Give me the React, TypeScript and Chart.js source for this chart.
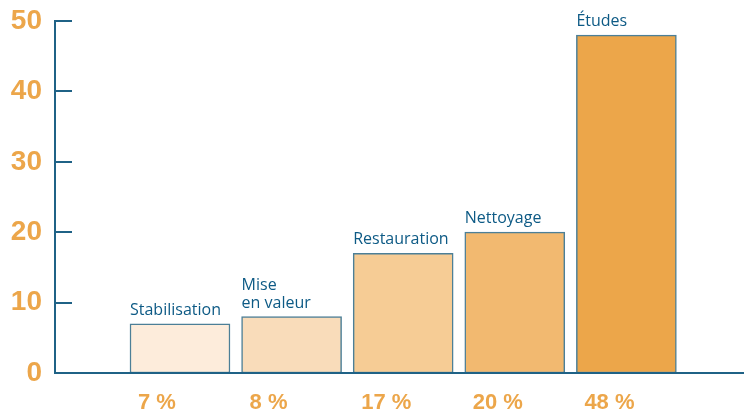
import React, { useEffect, useRef } from "react";
import { Chart, registerables } from "chart.js";

Chart.register(...registerables);

// Share of spending by type of work
const categories: string[][] = [
  ["Stabilisation"],
  ["Mise", "en valeur"],
  ["Restauration"],
  ["Nettoyage"],
  ["Études"],
];
const values: number[] = [7, 8, 17, 20, 48];
const percentLabels: string[] = values.map((v) => `${v} %`);
const yTicks: number[] = [0, 10, 20, 30, 40, 50];

const barFills = ["#fdecdb", "#f9dcba", "#f6cc95", "#f2b970", "#eca64a"];
const BLUE = "#0d5a85";
const AXIS = "#1f6286";
const ORANGE = "#eca64a";

const decorations = {
  id: "decorations",
  afterDatasetsDraw(chart: any) {
    const { ctx, chartArea } = chart;
    const yScale = chart.scales.y;
    const meta = chart.getDatasetMeta(0);
    ctx.save();

    // baseline across the full width
    ctx.strokeStyle = AXIS;
    ctx.lineWidth = 2;
    ctx.beginPath();
    ctx.moveTo(chartArea.left - 1, yScale.getPixelForValue(0));
    ctx.lineTo(chart.width, yScale.getPixelForValue(0));
    ctx.stroke();

    // tick marks pointing into the plot
    yTicks.forEach((t) => {
      const y = Math.round(yScale.getPixelForValue(t));
      ctx.beginPath();
      ctx.moveTo(chartArea.left, y);
      ctx.lineTo(chartArea.left + 17, y);
      ctx.stroke();
    });

    // category names above bars, percentages below the axis
    meta.data.forEach((bar: any, i: number) => {
      const left = bar.x - bar.width / 2;
      const lines = categories[i];
      ctx.font = "16px 'Open Sans'";
      ctx.fillStyle = BLUE;
      ctx.textAlign = "left";
      ctx.textBaseline = "alphabetic";
      const lineH = 18;
      lines.forEach((line, j) => {
        const y = bar.y - 9 - (lines.length - 1 - j) * lineH;
        ctx.fillText(line, left, y);
      });

      ctx.font = "bold 22px 'Liberation Sans'";
      ctx.fillStyle = ORANGE;
      ctx.textAlign = "left";
      ctx.textBaseline = "middle";
      ctx.fillText(percentLabels[i], left + 8, 403);
    });
    ctx.restore();
  },
};

export default function App() {
  const ref = useRef<HTMLCanvasElement>(null);

  useEffect(() => {
    document.body.style.margin = "0";
    const chart = new Chart(ref.current!, {
      type: "bar",
      data: {
        datasets: [
          {
            data: values.map((v, i) => ({ x: i + 1, y: v })),
            backgroundColor: barFills,
            borderColor: "#4c7f97",
            borderWidth: 1.5,
            borderSkipped: false,
            barThickness: 100,
          },
        ],
      },
      options: {
        animation: false,
        responsive: false,
        maintainAspectRatio: false,
        layout: { padding: { top: 21, right: 0, bottom: 41, left: 0 } },
        plugins: { legend: { display: false }, tooltip: { enabled: false } },
        scales: {
          x: {
            type: "linear",
            offset: false,
            min: -0.12,
            max: 6.054,
            display: false,
          },
          y: {
            min: 0,
            max: 50,
            afterFit: (scale: any) => {
              scale.width = 55;
              scale.paddingTop = 0;
              scale.paddingBottom = 0;
            },
            afterBuildTicks: (scale: any) => {
              scale.ticks = yTicks.map((v) => ({ value: v }));
            },
            grid: { display: false, drawTicks: false },
            border: { display: true, color: AXIS, width: 2 },
            ticks: {
              padding: 13,
              color: ORANGE,
              font: { family: "'Liberation Sans'", weight: "bold", size: 28 },
            },
          },
        },
      },
      plugins: [decorations],
    });
    return () => chart.destroy();
  }, []);

  return (
    <div style={{ position: "absolute", left: 0, top: 0, width: 744, height: 414 }}>
      <canvas ref={ref} width={744} height={414} />
    </div>
  );
}
